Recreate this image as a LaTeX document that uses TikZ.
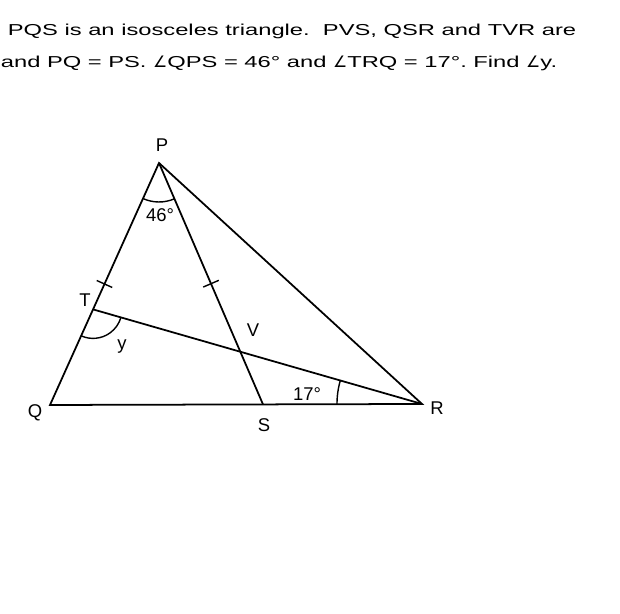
\documentclass[tikz,border=0pt]{standalone}
\usepackage{fontspec}
\setmainfont{Liberation Sans}
\newfontfamily\widefont[FakeStretch=1.5]{Liberation Sans}
\newfontfamily\widesym{DejaVu Sans}
\usetikzlibrary{angles,calc}

\newcommand{\ang}{{\widesym\char"2220}}

\begin{document}
\begin{tikzpicture}[line width=1pt,
  every node/.style={font=\fontsize{10.5}{12}\selectfont},
  question/.style={anchor=base west,inner sep=0pt,font=\widefont\fontsize{9}{10}\selectfont},
  lbl/.style={inner sep=1pt},
  tick/.style={line width=0.8pt}]
  \useasboundingbox (0,0) rectangle (12.4,12.28);
  % question text
  \node[question] (line1) at (0.14,11.56) {PQS is an isosceles triangle.\ \ PVS, QSR and TVR are};
  \node[question] (line2) at (0.0,10.93) {and PQ = PS.\ \ang QPS = 46\textdegree{} and \ang TRQ = 17\textdegree.\ Find \ang y.};

  % points
  \coordinate (P) at (3.18,9.02);
  \coordinate (Q) at (1.00,4.18);
  \coordinate (R) at (8.44,4.20);
  \coordinate (S) at ($(Q)!0.5726!(R)$);
  \coordinate (T) at ($(P)!0.605!(Q)$);
  \coordinate (V) at (intersection of T--R and P--S);

  % sides
  \draw (P) -- (Q) -- (R) -- cycle;
  \draw (P) -- (S);
  \draw (T) -- (R);

  % equal sides
  \coordinate (mPQ) at ($(P)!0.5!(Q)$);
  \coordinate (mPS) at ($(P)!0.5!(S)$);
  \draw[tick] ($(mPQ)!0.17cm!90:(P)$) -- ($(mPQ)!0.17cm!-90:(P)$);
  \draw[tick] ($(mPS)!0.17cm!90:(P)$) -- ($(mPS)!0.17cm!-90:(P)$);

  % angles
  \draw[line width=0.8pt] pic[draw,angle radius=0.78cm] {angle=Q--P--S};
  \draw[line width=0.8pt] pic[draw,angle radius=0.58cm] {angle=Q--T--R};
  \draw[line width=0.8pt] pic[draw,angle radius=1.7cm] {angle=T--R--Q};

  % labels
  \node[lbl] (lP) at (3.24,9.38) {P};
  \node[lbl] (lQ) at (0.70,4.02) {Q};
  \node[lbl] (lS) at (5.28,3.78) {S};
  \node[lbl] (lR) at (8.74,4.12) {R};
  \node[lbl] (lT) at (1.70,6.28) {T};
  \node[lbl] (lV) at (5.06,5.68) {V};
  \node[lbl] (ly) at (2.44,5.34) {y};
  \node[lbl] (a46) at (3.20,7.98) {46\textdegree};
  \node[lbl] (a17) at (6.14,4.40) {17\textdegree};
\end{tikzpicture}
\end{document}
